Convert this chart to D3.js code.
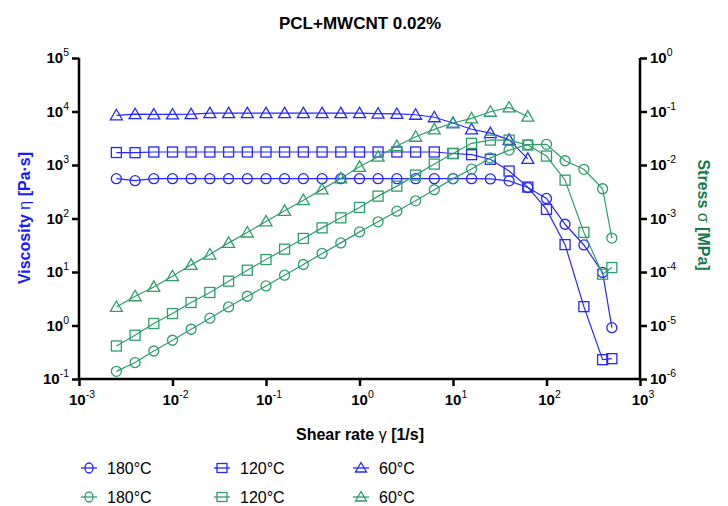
<!DOCTYPE html>
<html><head><meta charset="utf-8">
<script src="https://cdn.jsdelivr.net/npm/d3@7"></script>
<style>body{margin:0;background:#fff}svg{font-family:"Liberation Sans",Arial,sans-serif}</style>
</head><body><svg id="c" width="728" height="506"></svg>
<script>
// shear rate values [1/s]
const shearRate = [0.00251,0.00398,0.00631,0.01,0.0158,0.0251,0.0398,0.0631,0.1,0.158,0.251,0.398,0.631,1,1.58,2.51,3.98,6.31,10,15.8,25.1,39.8,63.1,100,158,251,398,500];
// viscosity [Pa·s]
const visc180 = [556,510,556,556,556,556,556,556,556,556,556,556,556,556,556,556,556,556,556,556,550,505,380,237,78,32,9.8,0.91];
const visc120 = [1710,1700,1750,1750,1750,1750,1750,1750,1750,1750,1750,1750,1750,1750,1750,1750,1750,1750,1640,1560,1280,770,387,148,32.5,2.25,0.23,0.24];
const visc60  = [8500,8900,8800,8800,8900,9300,9300,9300,9300,9300,9300,9300,9300,9300,9100,9000,8700,7800,6100,4650,3950,2950,1300];
// stress [MPa]
const stress180 = [1.39e-6,2.03e-6,3.34e-6,5.3e-6,8.51e-6,1.37e-5,2.22e-5,3.52e-5,5.49e-5,8.71e-5,1.38e-4,2.22e-4,3.5e-4,5.62e-4,8.67e-4,1.37e-3,2.14e-3,3.45e-3,5.56e-3,8.4e-3,1.36e-2,1.9e-2,2.4e-2,2.43e-2,1.2e-2,8.3e-3,3.6e-3,4.3e-4];
const stress120 = [4.14e-6,6.57e-6,1.09e-5,1.67e-5,2.69e-5,4.14e-5,6.73e-5,1.08e-4,1.71e-4,2.67e-4,4.24e-4,6.68e-4,1.03e-3,1.61e-3,2.62e-3,4.03e-3,6.47e-3,1.04e-2,1.64e-2,2.54e-2,2.92e-2,2.92e-2,2.36e-2,1.47e-2,5.2e-3,5.5e-4,9.1e-5,1.21e-4];
const stress60  = [2.22e-5,3.52e-5,5.26e-5,8.34e-5,1.36e-4,2.12e-4,3.5e-4,5.48e-4,8.81e-4,1.39e-3,2.2e-3,3.5e-3,5.61e-3,9.25e-3,1.43e-2,2.26e-2,3.37e-2,4.63e-2,6.1e-2,7.44e-2,9.9e-2,0.119,8.0e-2];
const legendLabels = ["180°C","120°C","60°C"];
const xTickExp = [-3,-2,-1,0,1,2,3];
const yLeftExp = [-1,0,1,2,3,4,5];
const yRightExp = [-6,-5,-4,-3,-2,-1,0];

const BLUE = "#2626ff", GREEN = "#2e9e6c";
const svg = d3.select("#c");
const L = 79, R = 640, T = 58, B = 379;
const x = d3.scaleLog().domain([1e-3,1e3]).range([L,R]);
const yL = d3.scaleLog().domain([1e-1,1e5]).range([B,T]);
const yR = d3.scaleLog().domain([1e-6,1]).range([B,T]);

svg.append("text").attr("x",360).attr("y",29).attr("text-anchor","middle")
  .attr("font-size",17).attr("font-weight","bold").text("PCL+MWCNT 0.02%");

function supLabel(sel, exp){
  sel.text("");
  sel.append("tspan").attr("font-weight","bold").text("10");
  sel.append("tspan").attr("dy",-7).attr("font-size",10.5).text(exp);
}
// bottom axis
const gx = svg.append("g").attr("transform",`translate(0,${B})`)
  .call(d3.axisBottom(x).tickValues(xTickExp.map(e=>Math.pow(10,e))).tickSize(7).tickFormat(""));
xTickExp.forEach(e=>{
  const t = svg.append("text").attr("x",x(Math.pow(10,e))+3).attr("y",B+26).attr("text-anchor","middle").attr("font-size",15);
  supLabel(t, e);
});
// left axis
const gl = svg.append("g").attr("transform",`translate(${L},0)`)
  .call(d3.axisLeft(yL).tickValues(yLeftExp.map(e=>Math.pow(10,e))).tickSize(7).tickFormat(""));
yLeftExp.forEach(e=>{
  const t = svg.append("text").attr("x",L-10).attr("y",yL(Math.pow(10,e))+5).attr("text-anchor","end").attr("font-size",15);
  supLabel(t, e);
});
// right axis
const gr = svg.append("g").attr("transform",`translate(${R},0)`)
  .call(d3.axisRight(yR).tickValues(yRightExp.map(e=>Math.pow(10,e))).tickSize(7).tickFormat(""));
yRightExp.forEach(e=>{
  const t = svg.append("text").attr("x",R+10).attr("y",yR(Math.pow(10,e))+5).attr("text-anchor","start").attr("font-size",15);
  supLabel(t, e);
});
[gx,gl,gr].forEach(g=>{
  g.select(".domain").attr("stroke","#000").attr("stroke-width",2.5);
  g.selectAll(".tick line").attr("stroke","#000").attr("stroke-width",2.5);
});
gx.select(".domain").attr("d",`M${L},0H${R}`);
gl.select(".domain").attr("d",`M0,${T}V${B}`);
gr.select(".domain").attr("d",`M0,${T}V${B}`);

// axis titles
svg.append("text").attr("transform","translate(30,218) rotate(-90)").attr("text-anchor","middle")
  .attr("font-size",16).attr("font-weight","bold").attr("fill","#1a1aff")
  .html('Viscosity <tspan font-weight="normal">η</tspan> [Pa·s]');
svg.append("text").attr("transform","translate(698,215) rotate(90)").attr("text-anchor","middle")
  .attr("font-size",16).attr("font-weight","bold").attr("fill","#17794c")
  .html('Stress <tspan font-weight="normal">σ</tspan> [MPa]');
svg.append("text").attr("x",360).attr("y",440).attr("text-anchor","middle")
  .attr("font-size",16).attr("font-weight","bold")
  .html('Shear rate <tspan font-weight="normal">γ</tspan> [1/s]');

function marker(g, shape, cx, cy){
  if(shape==="circle") g.append("circle").attr("cx",cx).attr("cy",cy).attr("r",5);
  else if(shape==="square") g.append("rect").attr("x",cx-5).attr("y",cy-5).attr("width",10).attr("height",10);
  else g.append("path").attr("d",`M${cx},${cy-6}L${cx+6},${cy+4.5}L${cx-6},${cy+4.5}Z`);
}
const series = [
  {v:visc180, y:yL, c:BLUE, s:"circle"},
  {v:visc120, y:yL, c:BLUE, s:"square"},
  {v:visc60,  y:yL, c:BLUE, s:"triangle"},
  {v:stress180, y:yR, c:GREEN, s:"circle"},
  {v:stress120, y:yR, c:GREEN, s:"square"},
  {v:stress60,  y:yR, c:GREEN, s:"triangle"}
];
series.forEach(sr=>{
  const pts = sr.v.map((v,i)=>[x(shearRate[i]), sr.y(v)]);
  svg.append("path").attr("d",d3.line()(pts)).attr("fill","none").attr("stroke",sr.c).attr("stroke-width",1.2);
  const g = svg.append("g").attr("fill","none").attr("stroke",sr.c).attr("stroke-width",1.3);
  pts.forEach(p=>marker(g, sr.s, p[0], p[1]));
});

// legend
const colX = [89,222,361];
const shapes = ["circle","square","triangle"];
[[BLUE,468],[GREEN,497]].forEach(([c,yy])=>{
  colX.forEach((cx,i)=>{
    svg.append("line").attr("x1",cx-8).attr("x2",cx+8).attr("y1",yy).attr("y2",yy).attr("stroke",c).attr("stroke-width",1.3);
    const g = svg.append("g").attr("fill","none").attr("stroke",c).attr("stroke-width",1.3);
    if(shapes[i]==="circle") g.append("ellipse").attr("cx",cx).attr("cy",yy).attr("rx",4).attr("ry",5);
    else if(shapes[i]==="square") g.append("rect").attr("x",cx-5).attr("y",yy-4.5).attr("width",10).attr("height",9);
    else g.append("path").attr("d",`M${cx},${yy-5.5}L${cx+5.5},${yy+4}L${cx-5.5},${yy+4}Z`);
    svg.append("text").attr("x",cx+18).attr("y",yy+6).attr("font-size",16).text(legendLabels[i]);
  });
});
</script></body></html>
